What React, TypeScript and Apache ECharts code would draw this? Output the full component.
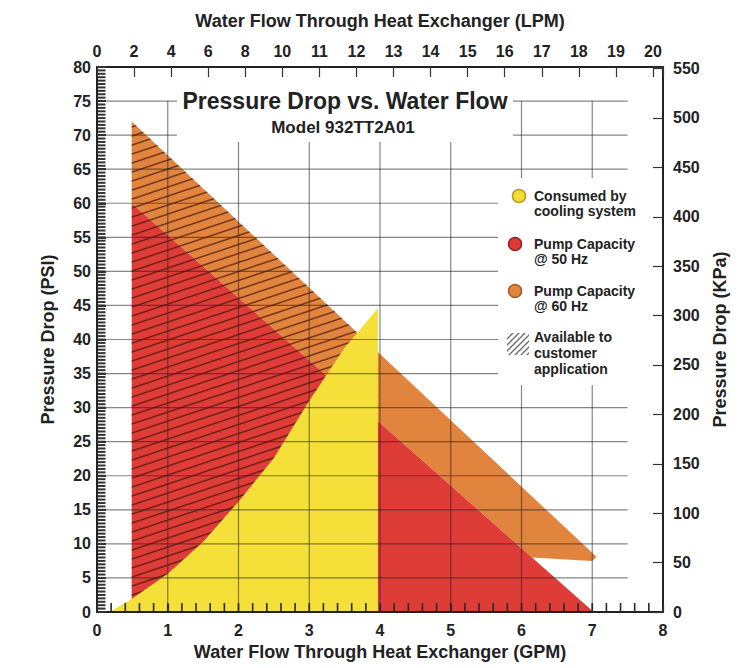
import React, { useEffect, useRef } from "react";
import * as echarts from "echarts";

// ---- data ----
const lpmLabels = ["0", "2", "4", "6", "8", "10", "11", "12", "13", "14", "15", "16", "17", "18", "19", "20"];
const consumedByCooling: number[][] = [
  [0.18, 0], [0.5, 2], [1, 5.6], [1.5, 10.3], [2, 16.2], [2.5, 22.6],
  [3, 31], [3.5, 38.8], [3.97, 44.6], [3.97, 0],
];
const pumpCapacity50Hz: number[][] = [[0.49, 60], [7.02, 0], [0.49, 0]];
const pumpCapacity60Hz: number[][] = [[0.49, 72], [7.06, 8.1], [7.0, 7.5], [6.15, 8.0], [0.49, 60]];
const availableToCustomer: number[][] = [[0.49, 72], [3.97, 38.2], [3.97, 0], [0.49, 0]];
const gridFlowLines = [1, 2, 3, 4, 5, 6, 7];
const gridPressureLines = [5, 10, 15, 20, 25, 30, 35, 40, 45, 50, 55, 60, 65, 70, 75];
const PSI_MAX = 80;
const GPM_MAX = 8;
const PSI_TO_KPA = 6.895;
const LPM_SLOTS = 15.27;
const PSI_MINOR_STEP = 0.5;
const GPM_MINOR_STEP = 0.2;

const FONT = "'Liberation Sans', Arial, Helvetica, sans-serif";
const TEXT = "#222";

function makeHatch(w: number, h: number, color: string, lw: number) {
  const c = document.createElement("canvas");
  c.width = w;
  c.height = h;
  const ctx = c.getContext("2d")!;
  ctx.strokeStyle = color;
  ctx.lineWidth = lw;
  const offs = [[0, 0], [-w, 0], [w, 0], [0, -h], [0, h]];
  for (const [dx, dy] of offs) {
    ctx.beginPath();
    ctx.moveTo(dx, h + dy);
    ctx.lineTo(w + dx, dy);
    ctx.stroke();
  }
  return { image: c, repeat: "repeat", imageWidth: w, imageHeight: h };
}

function polygonSeries(name: string, points: number[][], fill: any, z: number) {
  return {
    type: "custom",
    name,
    coordinateSystem: "cartesian2d",
    xAxisIndex: 0,
    yAxisIndex: 0,
    data: points,
    z,
    silent: true,
    renderItem: (params: any, api: any) => {
      if (params.dataIndex !== 0) return null;
      return {
        type: "polygon",
        shape: { points: points.map((p) => api.coord(p)) },
        style: { fill },
      };
    },
  };
}

export default function App() {
  const ref = useRef<HTMLDivElement>(null);

  useEffect(() => {
    if (!ref.current) return;
    const chart = echarts.init(ref.current, undefined, { renderer: "svg" });

    const hatch = makeHatch(27, 9, "rgba(70,20,10,0.7)", 1.6);
    const legendHatch = makeHatch(6, 6, "#6a6a6a", 1.3);

    // minor tick positions (axis decoration only)
    const psiMinorTicks: number[] = [];
    for (let i = 1; i * PSI_MINOR_STEP < PSI_MAX; i++) psiMinorTicks.push(+(i * PSI_MINOR_STEP).toFixed(2));
    const gpmMinorTicks: number[] = [];
    for (let i = 1; i * GPM_MINOR_STEP < GPM_MAX - 1e-9; i++) gpmMinorTicks.push(+(i * GPM_MINOR_STEP).toFixed(2));

    // [x1, y1, x2, y2, kind]  kind 0 = grid line, 1 = left minor tick
    const gridData = [
      ...gridFlowLines.map((x) => [x, 0, x, 75, 0]),
      ...gridPressureLines.map((y) => [0.12, y, 7.5, y, 0]),
      ...psiMinorTicks.map((v) => [0.012, v, 0.12, v, 1]),
    ];
    const bottomTickData = gpmMinorTicks.map((v) => [v, 0]);

    const labelStyle = { fontFamily: FONT, fontWeight: "bold", fontSize: 16, color: TEXT };
    const nameStyle = { fontFamily: FONT, fontWeight: "bold", fontSize: 18, color: TEXT };
    const lineStyle = { color: "#222", width: 2 };
    const tickStyle = { color: "#333", width: 1.2 };

    const legendItems = [
      { y: 196, text: "Consumed by\ncooling system", fill: "#F2DD38", stroke: "#B89A1E", cx: 519 },
      { y: 244, text: "Pump Capacity\n@ 50 Hz", fill: "#DA3B38", stroke: "#9A2020", cx: 515 },
      { y: 291, text: "Pump Capacity\n@ 60 Hz", fill: "#E0843E", stroke: "#A45A22", cx: 515 },
    ];

    const graphic: any[] = [
      { type: "rect", z: 20, shape: { x: 177, y: 84, width: 336, height: 58 }, style: { fill: "#fff" } },
      {
        type: "text", z: 21, x: 345, y: 101,
        style: { text: "Pressure Drop vs. Water Flow", font: `bold 23px ${FONT}`, fill: TEXT, align: "center", verticalAlign: "middle" },
      },
      {
        type: "text", z: 21, x: 343, y: 127,
        style: { text: "Model 932TT2A01", font: `bold 17px ${FONT}`, fill: TEXT, align: "center", verticalAlign: "middle" },
      },
      { type: "rect", z: 20, shape: { x: 498, y: 178, width: 148, height: 207 }, style: { fill: "#fff" } },
      ...legendItems.flatMap((it) => [
        { type: "circle", z: 21, shape: { cx: it.cx, cy: it.y, r: 6.5 }, style: { fill: it.fill, stroke: it.stroke, lineWidth: 1.5 } },
        {
          type: "text", z: 21, x: 534, y: it.y - 8,
          style: { text: it.text, font: `bold 14px ${FONT}`, fill: TEXT, lineHeight: 15.5, align: "left", verticalAlign: "top" },
        },
      ]),
      { type: "rect", z: 21, shape: { x: 507, y: 333, width: 22, height: 22 }, style: { fill: legendHatch } },
      {
        type: "text", z: 21, x: 534, y: 329,
        style: { text: "Available to\ncustomer\napplication", font: `bold 14px ${FONT}`, fill: TEXT, lineHeight: 16, align: "left", verticalAlign: "top" },
      },
    ];

    const option: any = {
      animation: false,
      backgroundColor: "#fff",
      grid: { left: 97, top: 67, width: 566, height: 545, containLabel: false },
      xAxis: [
        {
          type: "value", position: "bottom", min: 0, max: GPM_MAX, interval: 1, z: 6,
          name: "Water Flow Through Heat Exchanger (GPM)", nameLocation: "middle", nameGap: 25, nameTextStyle: nameStyle,
          axisLine: { show: true, onZero: false, lineStyle },
          axisTick: { show: true, inside: true, length: 8, lineStyle: tickStyle },
          axisLabel: { ...labelStyle, margin: 10 },
          splitLine: { show: false },
        },
        {
          type: "value", position: "top", min: 0, max: LPM_SLOTS, interval: 1, z: 6,
          name: "Water Flow Through Heat Exchanger (LPM)", nameLocation: "middle", nameGap: 37, nameTextStyle: nameStyle,
          axisLine: { show: true, onZero: false, lineStyle },
          axisTick: { show: true, inside: true, length: 10, lineStyle: tickStyle },
          axisLabel: {
            ...labelStyle, margin: 8,
            formatter: (v: number) => (Number.isInteger(v) && lpmLabels[v] !== undefined ? lpmLabels[v] : ""),
          },
          splitLine: { show: false },
        },
      ],
      yAxis: [
        {
          type: "value", position: "left", min: 0, max: PSI_MAX, interval: 5, z: 6,
          name: "Pressure Drop (PSI)", nameLocation: "middle", nameGap: 40, nameRotate: 90, nameTextStyle: nameStyle,
          axisLine: { show: true, onZero: false, lineStyle },
          axisTick: { show: true, inside: true, length: 9, lineStyle: { color: "#333", width: 2 } },
          axisLabel: { ...labelStyle, margin: 6 },
          splitLine: { show: false },
        },
        {
          type: "value", position: "right", min: 0, max: PSI_MAX * PSI_TO_KPA, interval: 50, z: 6,
          name: "Pressure Drop (KPa)", nameLocation: "middle", nameGap: 47, nameRotate: 90, nameTextStyle: nameStyle,
          axisLine: { show: true, onZero: false, lineStyle },
          axisTick: { show: true, inside: true, length: 10, lineStyle: tickStyle },
          axisLabel: {
            ...labelStyle, margin: 10,
            formatter: (v: number) => (Math.abs(v % 50) < 1e-6 ? String(v) : ""),
          },
          splitLine: { show: false },
        },
      ],
      series: [
        polygonSeries("Pump Capacity @ 60 Hz", pumpCapacity60Hz, "#E0843E", 1),
        polygonSeries("Pump Capacity @ 50 Hz", pumpCapacity50Hz, "#DD3C37", 2),
        polygonSeries("Available to customer application", availableToCustomer, hatch, 3),
        polygonSeries("Consumed by cooling system", consumedByCooling, "#F5E03A", 4),
        {
          type: "custom",
          name: "grid",
          coordinateSystem: "cartesian2d",
          xAxisIndex: 0,
          yAxisIndex: 0,
          data: gridData,
          encode: { x: [0, 2], y: [1, 3] },
          z: 5,
          silent: true,
          renderItem: (_params: any, api: any) => {
            const a = api.coord([api.value(0), api.value(1)]);
            const b = api.coord([api.value(2), api.value(3)]);
            const isTick = api.value(4) === 1;
            return {
              type: "line",
              shape: { x1: a[0], y1: a[1], x2: b[0], y2: b[1] },
              style: isTick
                ? { stroke: "#333", lineWidth: 2 }
                : { stroke: "rgba(35,35,35,0.55)", lineWidth: 1.2 },
            };
          },
        },
        {
          type: "custom",
          name: "bottomTicks",
          coordinateSystem: "cartesian2d",
          xAxisIndex: 0,
          yAxisIndex: 0,
          data: bottomTickData,
          encode: { x: 0, y: 1 },
          z: 10,
          silent: true,
          renderItem: (_params: any, api: any) => {
            const p = api.coord([api.value(0), api.value(1)]);
            return {
              type: "rect",
              shape: { x: p[0] - 0.8, y: p[1] - 9, width: 1.6, height: 8 },
              style: { fill: "#2a2a2a" },
            };
          },
        },
      ],
      graphic,
    };

    chart.setOption(option);
    return () => chart.dispose();
  }, []);

  return (
    <div
      ref={ref}
      style={{ position: "absolute", left: 0, top: 0, width: 744, height: 668, background: "#fff" }}
    />
  );
}
